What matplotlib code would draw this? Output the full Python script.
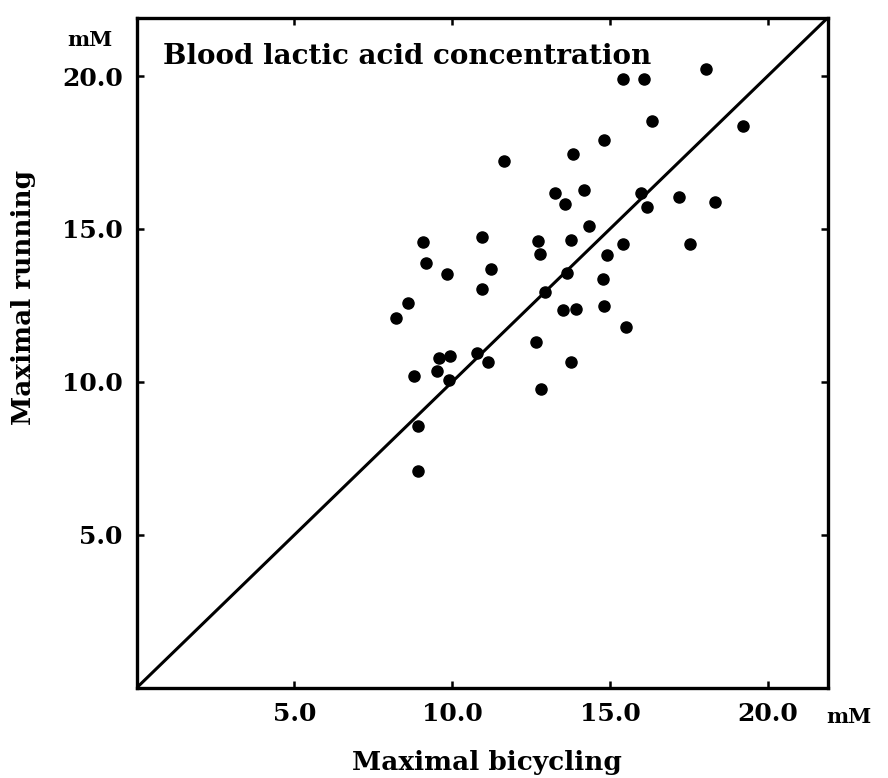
import matplotlib.pyplot as plt
import numpy as np

# maximal bicycling vs maximal running blood lactate (mM)
bicycling = [18.06, 15.41, 16.09, 16.32, 19.22, 14.82, 13.82, 11.63, 13.26, 14.17,
             13.59, 15.99, 16.16, 17.19, 18.32, 14.35, 10.93, 9.07, 12.73, 12.77,
             13.75, 15.40, 17.54, 14.90, 9.18, 9.85, 11.22, 10.93, 14.78, 13.65,
             8.61, 12.93, 8.23, 13.51, 13.93, 14.81, 15.51, 12.65, 13.78, 12.81,
             9.57, 9.93, 9.51, 8.78, 9.91, 10.78, 11.15, 8.91, 8.90]
running = [20.23, 19.90, 19.90, 18.53, 18.37, 17.91, 17.44, 17.21, 16.19, 16.26,
           15.81, 16.19, 15.72, 16.04, 15.89, 15.10, 14.75, 14.57, 14.61, 14.18,
           14.63, 14.51, 14.51, 14.15, 13.90, 13.52, 13.69, 13.03, 13.36, 13.55,
           12.59, 12.95, 12.08, 12.35, 12.38, 12.48, 11.81, 11.30, 10.66, 9.77,
           10.77, 10.83, 10.36, 10.20, 10.07, 10.95, 10.66, 8.56, 7.09]

ticks = [5.0, 10.0, 15.0, 20.0]
tick_labels = ['5.0', '10.0', '15.0', '20.0']
lim = 21.9

plt.rcParams['font.family'] = 'DejaVu Serif'
plt.rcParams['font.weight'] = 'bold'

fig = plt.figure(figsize=(8.88, 7.78), dpi=100)
ax = fig.add_axes([0.154, 0.116, 0.778, 0.861])

ax.plot([0, lim], [0, lim], color='black', lw=2.2)
ax.plot(bicycling, running, 'o', color='black', markersize=8)

ax.set_xlim(0, lim)
ax.set_ylim(0, lim)
ax.set_xticks(ticks)
ax.set_xticklabels(tick_labels)
ax.set_yticks(ticks)
ax.set_yticklabels(tick_labels)
ax.tick_params(direction='in', length=5, width=1.8, labelsize=18, pad=10,
               top=True, right=True)
for s in ax.spines.values():
    s.set_linewidth(2.4)

ax.text(0.038, 0.962, 'Blood lactic acid concentration', transform=ax.transAxes,
        fontsize=20, fontweight='bold', ha='left', va='top')

fig.text(0.101, 0.949, 'mM', fontsize=15, fontweight='bold', ha='center', va='center')
fig.text(0.956, 0.079, 'mM', fontsize=15, fontweight='bold', ha='center', va='center')

fig.text(0.548, 0.02, 'Maximal bicycling', fontsize=19, fontweight='bold',
         ha='center', va='center')
fig.text(0.026, 0.618, 'Maximal running', fontsize=19, fontweight='bold',
         ha='center', va='center', rotation=90)

fig.savefig('out.png', dpi=100)
